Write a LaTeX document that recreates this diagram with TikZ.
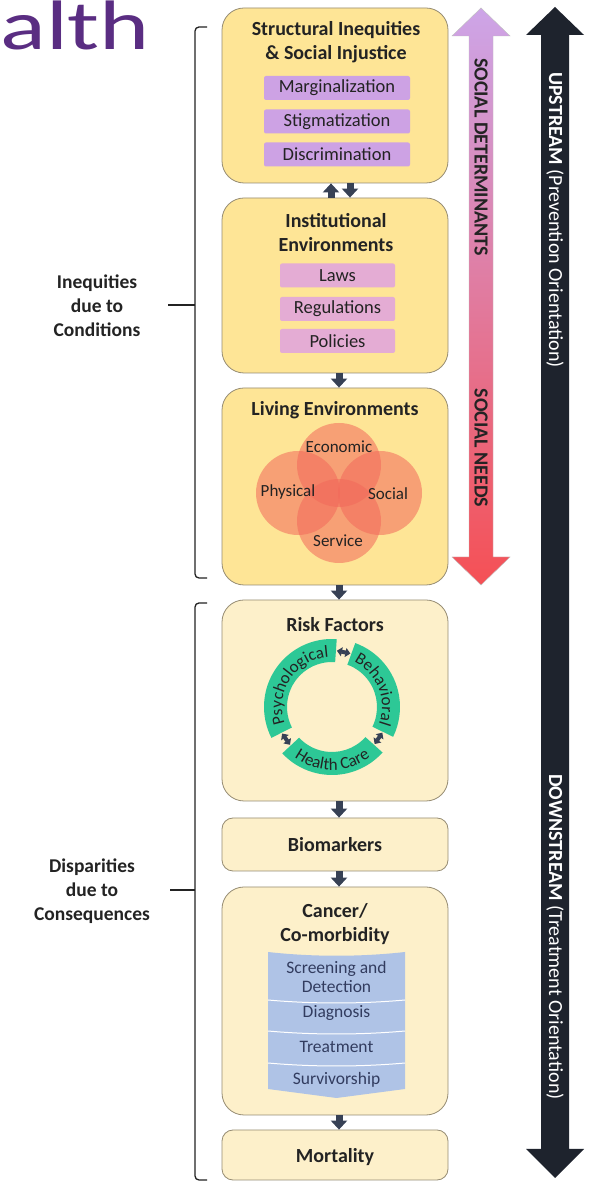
\documentclass[tikz,border=0pt]{standalone}
\usepackage{fontspec}
\setmainfont{Carlito}
\usetikzlibrary{arrows.meta,decorations.text}
\definecolor{boxY}{RGB}{254,229,150}
\definecolor{boxP}{RGB}{253,240,202}
\definecolor{boxB}{RGB}{150,140,115}
\definecolor{lav}{RGB}{205,162,228}
\definecolor{pnk}{RGB}{228,172,212}
\definecolor{darr}{RGB}{55,65,85}
\definecolor{ringg}{RGB}{45,200,150}
\definecolor{bann}{RGB}{175,195,230}
\definecolor{banntxt}{RGB}{50,60,95}
\definecolor{ttl}{RGB}{90,45,130}
\definecolor{blk}{RGB}{30,35,45}
\definecolor{txt}{RGB}{35,35,35}
\definecolor{venn}{RGB}{242,105,90}
\definecolor{gtop}{RGB}{205,165,232}
\definecolor{gmid}{RGB}{245,178,200}
\definecolor{gbot}{RGB}{245,80,85}
\begin{document}
\begin{tikzpicture}[x=1pt,y=1pt,
  box/.style={draw=boxB, line width=0.8pt, rounded corners=22pt, minimum width=226pt, inner sep=0pt},
  ybox/.style={box, fill=boxY},
  pbox/.style={box, fill=boxP},
  ttlt/.style={font=\fontsize{20}{24}\selectfont\bfseries, text=txt, align=center},
  tag/.style={rounded corners=2pt, minimum height=24pt, inner sep=0pt, font=\fontsize{18.5}{18.5}\selectfont, text=txt},
  conn/.style={line width=7pt, draw=darr, -{Triangle[length=9pt,width=16pt]}},
  side/.style={font=\fontsize{19.5}{24}\selectfont\bfseries, text=txt, align=center},
  vtxt/.style={rotate=-90, font=\fontsize{20}{20}\selectfont\bfseries, text=txt},
  wtxt/.style={rotate=-90, font=\fontsize{20}{20}\selectfont, text=white},
  vlab/.style={font=\fontsize{17}{17}\selectfont, text=txt},
  blab/.style={font=\fontsize{17.5}{19}\selectfont, text=banntxt, align=center},
  brk/.style={line width=1.3pt, draw=txt},
  rarr/.style={line width=4pt, draw=darr, {Triangle[length=5pt,width=9pt]}-{Triangle[length=5pt,width=9pt]}}
]
\useasboundingbox (0,0) rectangle (595,1181);
\fill[white] (0,0) rectangle (595,1181);

% title fragment
\node[anchor=base east, inner sep=0pt, text=ttl, font=\fontsize{70}{70}\selectfont] (title) at (150,1131) {\scalebox{1.36}[1]{alth}};

% right arrows
\shade[top color=gtop, middle color=gmid, bottom color=gbot, draw=gray!50, line width=0.4pt]
  (469,1145) -- (452,1145) -- (481,1173) -- (510,1145) -- (493,1145) -- (493,624) -- (510,624) -- (481,596) -- (452,624) -- (469,624) -- cycle;
\fill[blk] (541,1146) -- (526,1146) -- (555,1174) -- (584,1146) -- (569,1146) -- (569,32) -- (584,32) -- (555,3) -- (526,32) -- (541,32) -- cycle;
\node[vtxt] (sd) at (481,1024) {SOCIAL DETERMINANTS};
\node[vtxt] (sn) at (481,733) {SOCIAL NEEDS};
\node[wtxt] (up) at (555,961) {\textbf{UPSTREAM} (Prevention Orientation)};
\node[wtxt] (down) at (555,244) {\textbf{DOWNSTREAM} (Treatment Orientation)};

% main boxes
\node[ybox, minimum height=175pt] (b1) at (335,1085.5) {};
\node[ybox, minimum height=175pt] (b2) at (335,895.5) {};
\node[ybox, minimum height=197pt] (b3) at (335,694.5) {};
\node[pbox, minimum height=201pt] (b4) at (335,480.5) {};
\node[pbox, minimum height=53pt, rounded corners=11pt] (b5) at (335,336.5) {};
\node[pbox, minimum height=228pt] (b6) at (335,180) {};
\node[pbox, minimum height=50pt, rounded corners=11pt] (b7) at (335,26) {};

% box 1
\node[ttlt] (t1) at (336,1139) {Structural Inequities\\\& Social Injustice};
\node[tag, fill=lav, minimum width=146pt] (m1) at (337,1093) {Marginalization};
\node[tag, fill=lav, minimum width=146pt] (m2) at (337,1059.5) {Stigmatization};
\node[tag, fill=lav, minimum width=146pt] (m3) at (337,1026.5) {Discrimination};

% box 2
\node[ttlt] (t2) at (336,948.5) {Institutional\\Environments};
\node[tag, fill=pnk, minimum width=115pt] (l1) at (337.5,905.5) {Laws};
\node[tag, fill=pnk, minimum width=115pt] (l2) at (337.5,872) {Regulations};
\node[tag, fill=pnk, minimum width=115pt] (l3) at (337.5,840) {Policies};

% box 3
\node[ttlt] (t3) at (335,771) {Living Environments};
\fill[venn, opacity=0.55] (339,716) circle[radius=42];
\fill[venn, opacity=0.55] (298,688) circle[radius=42];
\fill[venn, opacity=0.55] (380,688) circle[radius=42];
\fill[venn, opacity=0.55] (339,660) circle[radius=42];
\node[vlab] (v1) at (339,734) {Economic};
\node[vlab] (v2) at (288,689) {Physical};
\node[vlab] (v3) at (388,687) {Social};
\node[vlab] (v4) at (338,640) {Service};

% box 4
\node[ttlt] (t4) at (335,556) {Risk Factors};
\begin{scope}[shift={(332,474)}]
  \fill[ringg] (70:68) arc[start angle=70, end angle=-26, radius=68] -- (-26:45) arc[start angle=-26, end angle=70, radius=45] -- cycle;
  \fill[ringg] (86:68) arc[start angle=86, end angle=207, radius=68] -- (207:45) arc[start angle=207, end angle=86, radius=45] -- cycle;
  \fill[ringg] (223:68) arc[start angle=223, end angle=318, radius=68] -- (318:45) arc[start angle=318, end angle=223, radius=45] -- cycle;
  \path[decorate, decoration={text along path, text color=txt, text align=center,
     text={|\fontsize{17}{17}\selectfont|Psychological}}]
     (206:50) arc[start angle=206, end angle=87, radius=50];
  \path[decorate, decoration={text along path, text color=txt, text align=center,
     text={|\fontsize{17}{17}\selectfont|Behavioral}}]
     (69:50) arc[start angle=69, end angle=-25, radius=50];
  \path[decorate, decoration={text along path, text color=txt, text align=center,
     text={|\fontsize{17}{17}\selectfont|Health Care}}]
     (224:63) arc[start angle=224, end angle=317, radius=63];
  \draw[rarr] (71:56.5) -- (85:56.5);
  \draw[rarr] (208:56.5) -- (222:56.5);
  \draw[rarr] (319:56.5) -- (333:56.5);
\end{scope}

% box 5
\node[ttlt] (t5) at (335,336.5) {Biomarkers};

% box 6
\node[ttlt] (t6) at (335,256.5) {Cancer/\\Co-morbidity};
\fill[bann] (268,229) .. controls (313,224) and (360,224) .. (405,229) -- (405,92) -- (336.5,83) -- (268,92) -- cycle;
\foreach \yy in {181,150,118}
  \draw[white, line width=1pt] (268,\yy) .. controls (313,\yy-4) and (360,\yy-4) .. (405,\yy);
\node[blab] (s1) at (336.5,204) {Screening and\\Detection};
\node[blab] (s2) at (336.5,168) {Diagnosis};
\node[blab] (s3) at (336.5,134) {Treatment};
\node[blab] (s4) at (336.5,101) {Survivorship};

% box 7
\node[ttlt] (t7) at (335,24) {Mortality};

% connectors
\draw[conn] ([xshift=-4pt]b2.north) -- ([xshift=-4pt]b1.south);
\draw[conn] ([xshift=15pt]b1.south) -- ([xshift=15pt]b2.north);
\draw[conn] ([xshift=4pt]b2.south) -- ([xshift=4pt]b3.north);
\draw[conn] ([xshift=4pt]b3.south) -- ([xshift=4pt]b4.north);
\draw[conn] ([xshift=4pt]b4.south) -- ([xshift=4pt]b5.north);
\draw[conn] ([xshift=4pt]b5.south) -- ([xshift=4pt]b6.north);
\draw[conn] ([xshift=4pt]b6.south) -- ([xshift=4pt]b7.north);

% brackets and labels
\draw[brk, rounded corners=4pt] (207,1154) -- (195,1154) -- (195,603) -- (207,603);
\draw[brk, rounded corners=4pt] (207,578) -- (195,578) -- (195,1) -- (207,1);
\coordinate (k1) at (195,876);
\coordinate (k2) at (195,291);
\node[side] (lab1) at (97,875) {Inequities\\due to\\Conditions};
\node[side] (lab2) at (92,290) {Disparities\\due to\\Consequences};
\draw[brk] (168,876) -- (k1);
\draw[brk] (170,291) -- (k2);
\end{tikzpicture}
\end{document}
